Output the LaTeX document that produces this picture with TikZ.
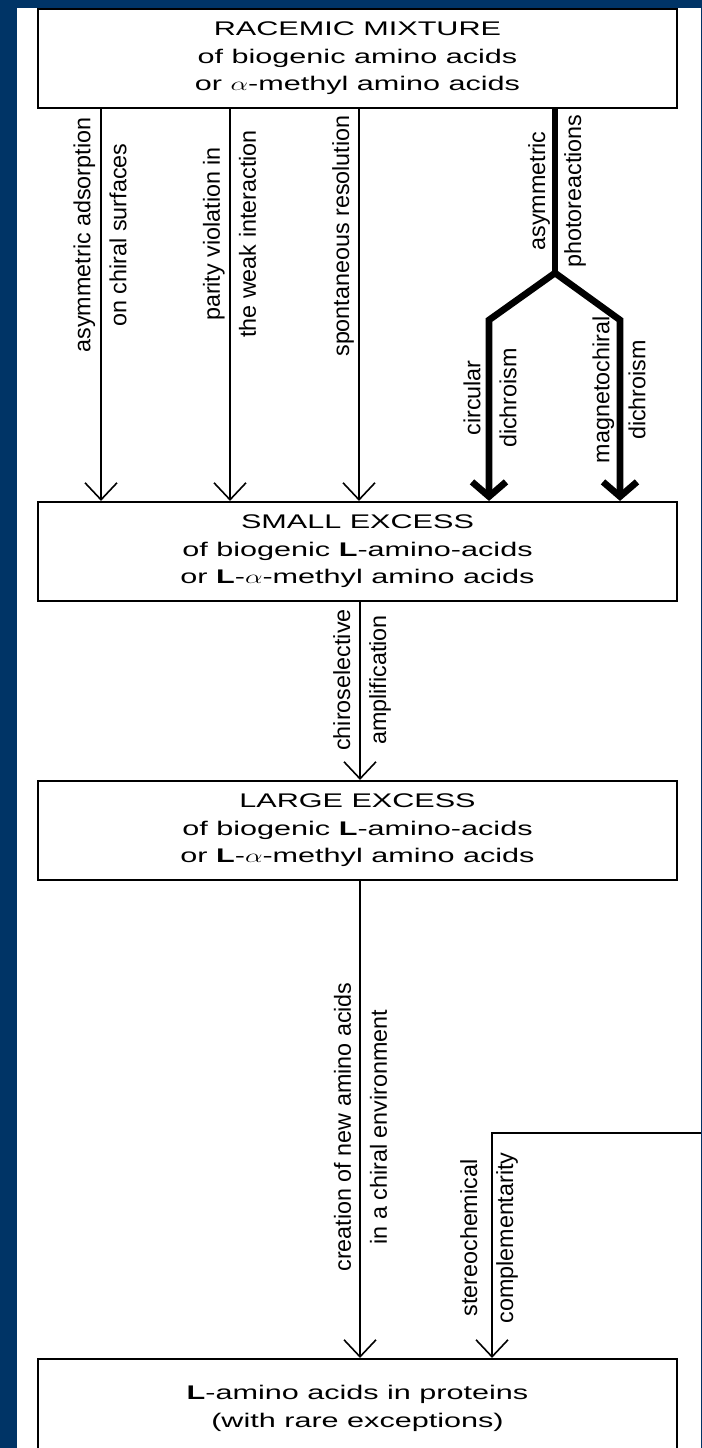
\documentclass[tikz,border=0pt]{standalone}
\usepackage{fontspec}
\usepackage{graphicx}
\setmainfont{Liberation Sans}
\newfontfamily\boxff[FakeStretch=1.55]{Liberation Sans}
\usetikzlibrary{arrows.meta}
\definecolor{bgblue}{RGB}{0,52,102}
\newcommand\boxfont{\boxff\fontsize{14.8pt}{20.6pt}\selectfont}
\newcommand\labfont{\fontsize{17.5pt}{27pt}\selectfont}
\newcommand\wal{\scalebox{1.45}[1]{$\alpha$}}
\begin{document}
\begin{tikzpicture}[x=0.75pt,y=-0.75pt,
  box/.style={draw=black, line width=1.6pt, fill=white, inner sep=0pt,
    minimum width=479.25pt, minimum height=74.25pt, align=center, font=\boxfont},
  lab/.style={rotate=90, align=center, inner sep=0pt, font=\labfont},
  thinarrow/.style={line width=1.2pt, -{Straight Barb[length=12.75pt,width=24pt]}},
  thickline/.style={line width=5pt},
  thickarrow/.style={line width=5pt, line join=miter, -{Straight Barb[length=11pt,width=25.5pt]}},
]
\useasboundingbox (0,0) rectangle (702,1448);
\clip (0,0) rectangle (702,1448);
\fill[bgblue] (0,0) rectangle (702,1448);
\fill[white] (17,8) rectangle (701,1460);

% boxes
\node[box] (top) at (357.5,58.5) {RACEMIC MIXTURE\\of biogenic amino acids\\or \wal-methyl amino acids};
\node[box] (small) at (357.5,551.5) {SMALL EXCESS\\of biogenic \textbf{L}-amino-acids\\or \textbf{L}-\wal-methyl amino acids};
\node[box] (large) at (357.5,830.5) {LARGE EXCESS\\of biogenic \textbf{L}-amino-acids\\or \textbf{L}-\wal-methyl amino acids};
\node[box] (final) at (357.5,1408.5) {\textbf{L}-amino acids in proteins\\(with rare exceptions)};

% helper coordinates
\coordinate (c1) at (101,0);
\coordinate (c2) at (230,0);
\coordinate (c3) at (359,0);
\coordinate (cs) at (555,0);
\coordinate (cm) at (360,0);
\coordinate (fork) at (555,273);
\coordinate (bl) at (489,320);
\coordinate (br) at (620,320);
\coordinate (edge) at (701,1133);
\coordinate (turn) at (492,1133);

% connectors
\draw[thinarrow] (c1 |- top.south) -- (c1 |- small.north);
\draw[thinarrow] (c2 |- top.south) -- (c2 |- small.north);
\draw[thinarrow] (c3 |- top.south) -- (c3 |- small.north);
\draw[thickline] (cs |- top.south) -- (fork);
\draw[thickarrow] (fork) -- (bl) -- (bl |- small.north);
\draw[thickarrow] (fork) -- (br) -- (br |- small.north);
\draw[thinarrow] (cm |- small.south) -- (cm |- large.north);
\draw[thinarrow] (cm |- large.south) -- (cm |- final.north);
\draw[thinarrow] (edge) -- (turn) -- (turn |- final.north);

% labels
\node[lab] (l1) at (100,235) {asymmetric adsorption\\on chiral surfaces};
\node[lab] (l2) at (229.5,234) {parity violation in\\the weak interaction};
\node[lab] (l3) at (343,236) {spontaneous resolution};
\node[lab] (l4) at (557,191) {asymmetric\\photoreactions};
\node[lab] (l5) at (490,398) {circular\\dichroism};
\node[lab] (l6) at (619,390) {magnetochiral\\dichroism};
\node[lab] (l7) at (362,680) {chiroselective\\amplification};
\node[lab] (l8) at (360.5,1127) {creation of new amino acids\\in a chiral environment};
\node[lab] (l9) at (489,1238) {stereochemical\\complementarity};
\end{tikzpicture}
\end{document}
